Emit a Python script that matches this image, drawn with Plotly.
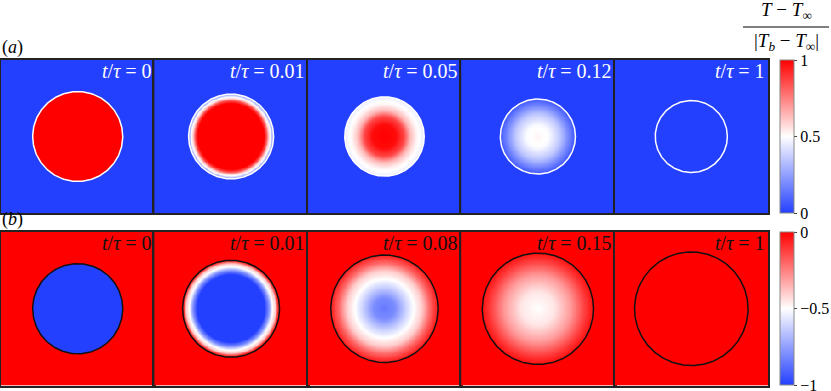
import numpy as np
import plotly.graph_objs as go

# ---------------- data ----------------
# times shown on each panel
times_a = ['0', '0.01', '0.05', '0.12', '1']
times_b = ['0', '0.01', '0.08', '0.15', '1']

# radius of the drop in each panel (panel half width = 1)
radius_a = [0.587, 0.554, 0.518, 0.49, 0.47]
radius_b = [0.587, 0.632, 0.70, 0.725, 0.74]

# radial profiles inside the drop, rho = r / R
rho_a = [[0, 0.99, 1.0],
         [0, 0.78, 0.84, 0.89, 0.93, 0.96, 1.0],
         [0, 0.3, 0.5, 0.65, 0.8, 0.95, 1.0],
         [0, 0.3, 0.6, 0.8, 1.0],
         [0, 1.0]]
val_a = [[1, 1, 1],
         [1, 1, 0.85, 0.6, 0.5, 0.35, 0.25],
         [1, 0.98, 0.86, 0.64, 0.53, 0.47, 0.45],
         [0.52, 0.49, 0.35, 0.2, 0.06],
         [0, 0]]
outside_a = [0, 0, 0, 0, 0]

rho_b = [[0, 0.99, 1.0],
         [0, 0.7, 0.78, 0.86, 0.92, 0.97, 1.0],
         [0, 0.2, 0.4, 0.55, 0.7, 0.85, 1.0],
         [0, 0.3, 0.6, 0.85, 1.0],
         [0, 1.0]]
val_b = [[-1, -1, -1],
         [-1, -1, -0.8, -0.5, -0.4, -0.12, -0.02],
         [-0.85, -0.8, -0.62, -0.5, -0.4, -0.2, -0.05],
         [-0.5, -0.45, -0.3, -0.12, -0.03],
         [0, 0]]
outside_b = [0, 0, 0, 0, 0]

ticks_a = [0, 0.5, 1]
ticks_b = [-1, -0.5, 0]
ticktext_a = ['0', '0.5', '1']
ticktext_b = ['\u22121', '\u22120.5', '0']

blue = 'rgb(36,64,255)'
red = 'rgb(255,0,0)'
scale = [[0, blue], [0.5, 'rgb(255,255,255)'], [1, red]]
serif = 'Liberation Serif, DejaVu Serif, serif'

W, H = 831, 391
N = 181
grid = np.linspace(-1, 1, N)
X, Y = np.meshgrid(grid, grid)
Rgrid = np.sqrt(X**2 + Y**2)

# panel geometry in pixels
x_left, panel_w = 1.0, 153.4
rows_px = [(60.0, 213.0), (232.0, 385.5)]


def field(R, rho, val, out):
    z = np.interp(Rgrid / R, rho, val)
    z[Rgrid > R] = out
    return z.astype(np.float32)


fig = go.Figure()
layout = dict(
    width=W, height=H,
    margin=dict(l=0, r=0, t=0, b=0, autoexpand=False),
    paper_bgcolor='white', plot_bgcolor='white',
    showlegend=False,
    annotations=[], shapes=[],
)

rows = [
    (times_a, radius_a, rho_a, val_a, outside_a, 'coloraxis', 'white'),
    (times_b, radius_b, rho_b, val_b, outside_b, 'coloraxis2', '#111111'),
]

theta = np.linspace(0, 2 * np.pi, 241)
k = 0
for r, (times, radii, rhos, vals, outs, cax, lcol) in enumerate(rows):
    y0, y1 = rows_px[r]
    for i in range(5):
        k += 1
        xa = 'x' if k == 1 else 'x%d' % k
        ya = 'y' if k == 1 else 'y%d' % k
        R = radii[i]
        fig.add_trace(go.Heatmap(
            x=grid, y=grid, z=field(R, rhos[i], vals[i], outs[i]),
            coloraxis=cax, xaxis=xa, yaxis=ya, hoverinfo='skip',
        ))
        fig.add_trace(go.Scatter(
            x=R * np.cos(theta), y=R * np.sin(theta),
            mode='lines', line=dict(color=lcol, width=1.5),
            xaxis=xa, yaxis=ya, hoverinfo='skip',
        ))
        axis_style = dict(range=[-1, 1], showgrid=False, zeroline=False,
                          showticklabels=False, ticks='',
                          showline=True, mirror=True,
                          linecolor='#222222', linewidth=1.5)
        xd = [(x_left + i * panel_w) / W, (x_left + (i + 1) * panel_w) / W]
        yd = [1 - y1 / H, 1 - y0 / H]
        layout['xaxis' + ('' if k == 1 else str(k))] = dict(axis_style, domain=xd, anchor=ya)
        layout['yaxis' + ('' if k == 1 else str(k))] = dict(axis_style, domain=yd, anchor=xa)
        layout['annotations'].append(dict(
            text='<i>t</i>/<i>\u03c4</i> = ' + times[i],
            xref=xa + ' domain', yref=ya + ' domain', x=0.995, y=1.01,
            xanchor='right', yanchor='top', showarrow=False,
            font=dict(family=serif, size=20, color=lcol),
        ))

# panel labels
for lab, ytop in [('a', 60.0), ('b', 232.0)]:
    layout['annotations'].append(dict(
        text='(<i>%s</i>)' % lab, xref='paper', yref='paper',
        x=0, y=1 - ytop / H, xanchor='left', yanchor='bottom',
        showarrow=False, font=dict(family=serif, size=18, color='black'),
    ))

# colour bar title as a fraction
layout['annotations'].append(dict(
    text='<i>T</i> \u2212 <i>T</i><sub>\u221e</sub>', xref='paper', yref='paper',
    x=786 / W, y=1 - 25 / H, xanchor='center', yanchor='bottom',
    showarrow=False, font=dict(family=serif, size=19, color='black'),
))
layout['annotations'].append(dict(
    text='|<i>T</i><sub><i>b</i></sub> \u2212 <i>T</i><sub>\u221e</sub>|', xref='paper', yref='paper',
    x=786 / W, y=1 - 28 / H, xanchor='center', yanchor='top',
    showarrow=False, font=dict(family=serif, size=19, color='black'),
))
layout['shapes'].append(dict(
    type='line', xref='paper', yref='paper',
    x0=743 / W, x1=829 / W, y0=1 - 27 / H, y1=1 - 27 / H,
    line=dict(color='black', width=1),
))

cb_common = dict(
    thickness=14, thicknessmode='pixels', len=153, lenmode='pixels',
    x=780 / W, xanchor='left', yanchor='top', xpad=0, ypad=0,
    outlinewidth=1, outlinecolor='#888888',
    ticks='outside', ticklen=3, tickcolor='#444444',
    ticklabeloverflow='allow',
    tickfont=dict(family=serif, size=16, color='black'),
)
layout['coloraxis'] = dict(
    colorscale=scale, cmin=0, cmax=1,
    colorbar=dict(cb_common, y=1 - 60 / H, tickvals=ticks_a, ticktext=ticktext_a),
)
layout['coloraxis2'] = dict(
    colorscale=scale, cmin=-1, cmax=0,
    colorbar=dict(cb_common, y=1 - 232 / H, tickvals=ticks_b, ticktext=ticktext_b),
)

fig.update_layout(go.Layout(layout))
# the page's default body margin would push the figure 8px off its place
fig.write_html("out.html", config={'displayModeBar': False},
               post_script="document.body.style.margin='0';")
